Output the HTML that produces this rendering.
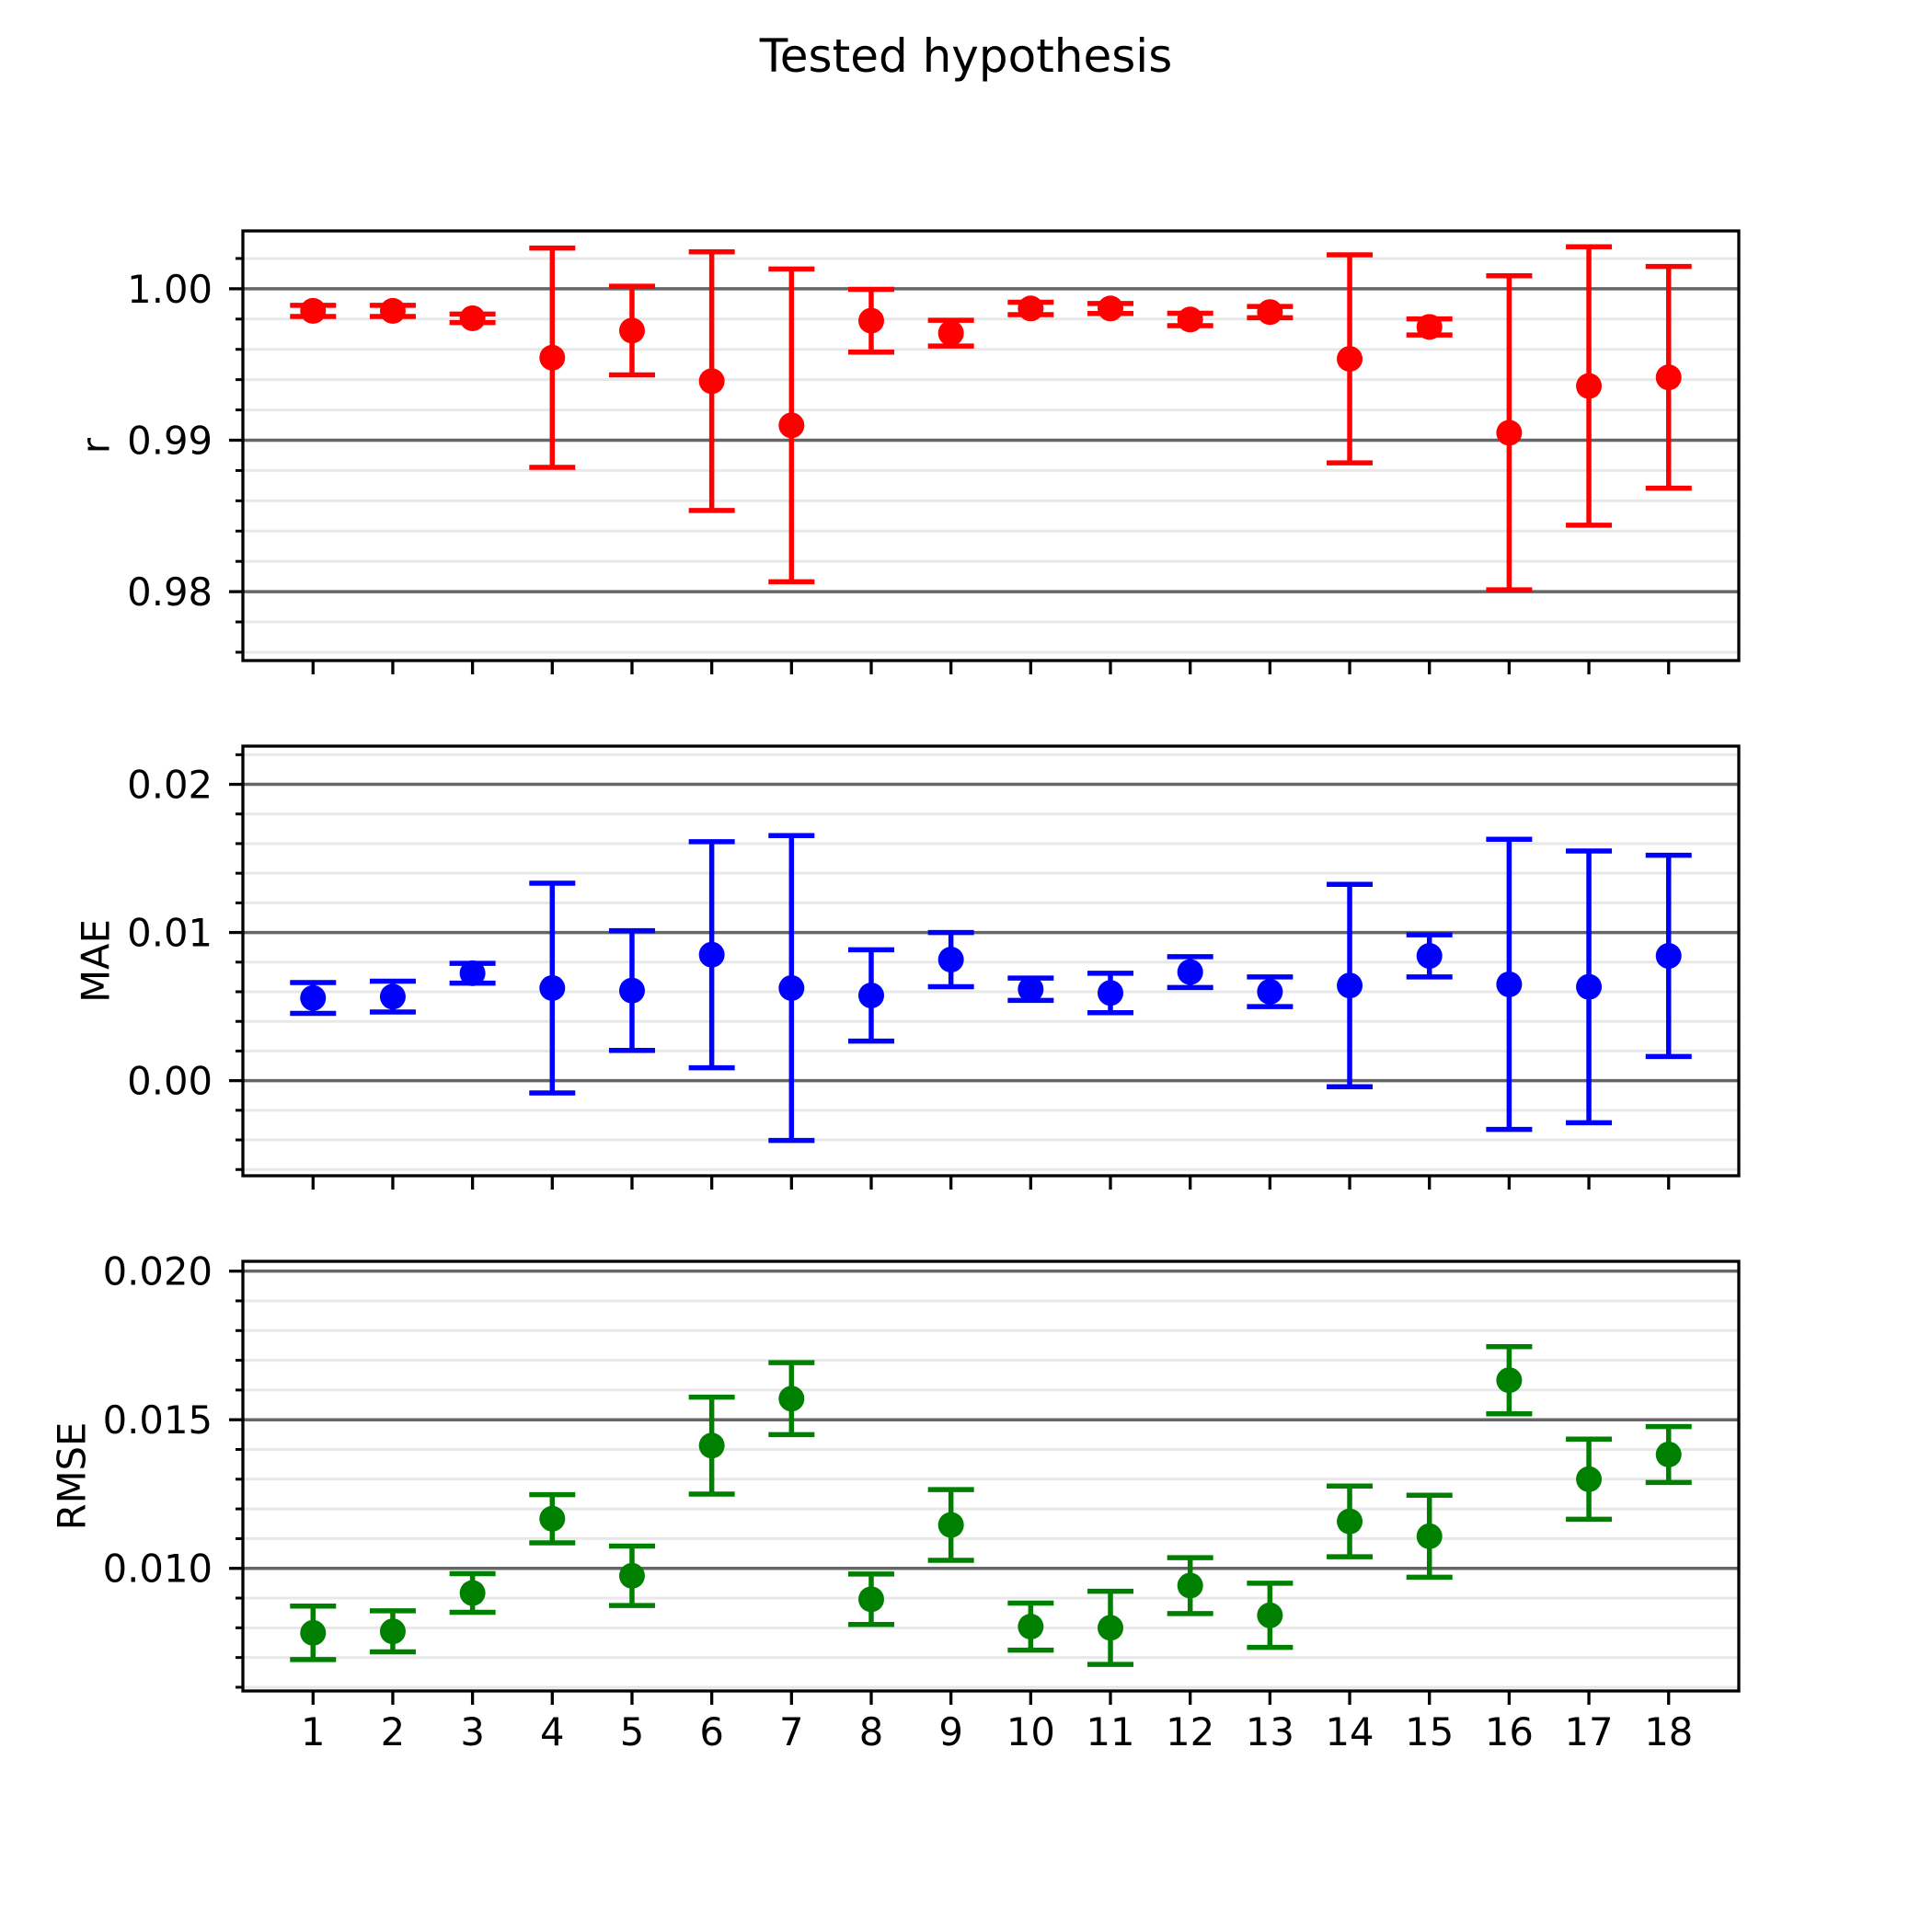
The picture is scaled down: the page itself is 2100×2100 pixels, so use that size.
<!DOCTYPE html>
<html><head><meta charset="utf-8">
<style>
html,body{margin:0;padding:0;background:#fff;}
svg{display:block;}
text{font-family:"DejaVu Sans","Liberation Sans",sans-serif;fill:#000;}
</style></head>
<body>
<svg id="chart" width="2100" height="2100" viewBox="0 0 2100 2100" xmlns="http://www.w3.org/2000/svg">
<rect x="0" y="0" width="2100" height="2100" fill="#fff"/>
<text x="1050" y="78" font-size="50" text-anchor="middle">Tested hypothesis</text>
</svg>
<script>
const categories = [1,2,3,4,5,6,7,8,9,10,11,12,13,14,15,16,17,18];
const rMean = [0.99854,0.99854,0.99805,0.99545,0.99724,0.99390,0.99098,0.99789,0.99707,0.99870,0.99870,0.99797,0.99846,0.99537,0.99748,0.99049,0.99358,0.99415];
const rErr  = [0.00037,0.00037,0.00028,0.00724,0.00293,0.00854,0.01033,0.00207,0.00085,0.00041,0.00033,0.00041,0.00037,0.00687,0.00053,0.01037,0.00919,0.00732];
const maeMean = [0.00558,0.00567,0.00725,0.00625,0.00608,0.00850,0.00625,0.00575,0.00817,0.00617,0.00592,0.00733,0.00600,0.00642,0.00842,0.00650,0.00633,0.00842];
const maeErr  = [0.00104,0.00104,0.00067,0.00708,0.00404,0.00763,0.01029,0.00308,0.00183,0.00075,0.00133,0.00104,0.00100,0.00683,0.00142,0.00979,0.00917,0.00679];
const rmseMean = [0.00783,0.00788,0.00917,0.01167,0.00975,0.01413,0.01571,0.00896,0.01146,0.00804,0.00800,0.00942,0.00842,0.01158,0.01108,0.01633,0.01300,0.01383];
const rmseErr  = [0.00090,0.00069,0.00065,0.00081,0.00100,0.00163,0.00121,0.00085,0.00119,0.00079,0.00123,0.00094,0.00108,0.00119,0.00138,0.00113,0.00135,0.00094];
const rTicks = [0.98,0.99,1.00];
const rTickLabels = ["0.98","0.99","1.00"];
const maeTicks = [0.00,0.01,0.02];
const maeTickLabels = ["0.00","0.01","0.02"];
const rmseTicks = [0.010,0.015,0.020];
const rmseTickLabels = ["0.010","0.015","0.020"];

const NS = "http://www.w3.org/2000/svg";
const svg = document.getElementById('chart');
const L = 264, R = 1890, H = 467;
const xmin = 0.12, xmax = 18.88;
function xs(v){ return L + (v - xmin) / (xmax - xmin) * (R - L); }
function mk(tag, attrs, parent){
  const e = document.createElementNS(NS, tag);
  for (const k in attrs) e.setAttribute(k, attrs[k]);
  (parent || svg).appendChild(e);
  return e;
}
const panels = [
  {name:'r', label:'r', top:251, ymin:0.97545, ymax:1.00382, mean:rMean, err:rErr, ticks:rTicks, tl:rTickLabels, minor:0.002, color:'#ff0000', xl:false, labX:104},
  {name:'mae', label:'MAE', top:811, ymin:-0.00642, ymax:0.02258, mean:maeMean, err:maeErr, ticks:maeTicks, tl:maeTickLabels, minor:0.002, color:'#0000ff', xl:false, labX:104},
  {name:'rmse', label:'RMSE', top:1371, ymin:0.005875, ymax:0.02033, mean:rmseMean, err:rmseErr, ticks:rmseTicks, tl:rmseTickLabels, minor:0.001, color:'#008000', xl:true, labX:78}
];
panels.forEach(p => {
  const g = mk('g', {});
  
  
  const B = p.top + H;
  const ys = v => B - (v - p.ymin) / (p.ymax - p.ymin) * H;
  const start = Math.ceil(p.ymin / p.minor - 1e-6);
  for (let k = start; k * p.minor <= p.ymax + 1e-9; k++) {
    const v = k * p.minor;
    const y = ys(v);
    const isMajor = p.ticks.some(t => Math.abs(t - v) < 1e-7);
    if (isMajor) continue;
    const gl = mk('line', {x1:L, x2:R, y1:y, y2:y, stroke:'#e8e8e8', 'stroke-width':3}, g);
    
    
    const mt = mk('line', {x1:L-8, x2:L, y1:y, y2:y, stroke:'#000', 'stroke-width':3}, g);
    
    
  }
  p.ticks.forEach((t, i) => {
    const y = ys(t);
    const gl = mk('line', {x1:L, x2:R, y1:y, y2:y, stroke:'#666', 'stroke-width':3.5}, g);
    
    
    const tk = mk('line', {x1:L-15, x2:L, y1:y, y2:y, stroke:'#000', 'stroke-width':3.3}, g);
    
    
    const tx = mk('text', {x:231, y:y+15, 'font-size':41.7, 'text-anchor':'end'}, g);
    tx.textContent = p.tl[i];
    
    
  });
  categories.forEach((c, i) => {
    const x = xs(c);
    const tk = mk('line', {x1:x, x2:x, y1:B, y2:B+15, stroke:'#000', 'stroke-width':3.3}, g);
    
    
    if (p.xl) {
      const tx = mk('text', {x:x, y:1897, 'font-size':41.7, 'text-anchor':'middle'}, g);
      tx.textContent = String(c);
      
      
    }
  });
  categories.forEach((c, i) => {
    const x = xs(c);
    const yt = ys(p.mean[i] + p.err[i]), yb = ys(p.mean[i] - p.err[i]), yc = ys(p.mean[i]);
    const eg = mk('g', {}, g);
    
    
    mk('line', {x1:x, x2:x, y1:yt, y2:yb, stroke:p.color, 'stroke-width':5.5}, eg);
    mk('line', {x1:x-25, x2:x+25, y1:yt, y2:yt, stroke:p.color, 'stroke-width':5.5}, eg);
    mk('line', {x1:x-25, x2:x+25, y1:yb, y2:yb, stroke:p.color, 'stroke-width':5.5}, eg);
    const pt = mk('circle', {cx:x, cy:yc, r:14, fill:p.color}, g);
    
    
  });
  const fr = mk('rect', {x:L, y:p.top, width:R-L, height:H, fill:'none', stroke:'#000', 'stroke-width':3.3}, g);
  
  
  const cy = p.top + H/2;
  const lab = mk('text', {x:p.labX, y:cy, 'font-size':41.7, 'text-anchor':'middle', 'dominant-baseline':'central', transform:'rotate(-90 '+p.labX+' '+cy+')'}, g);
  lab.textContent = p.label;
  
  
});
</script>
</body></html>
